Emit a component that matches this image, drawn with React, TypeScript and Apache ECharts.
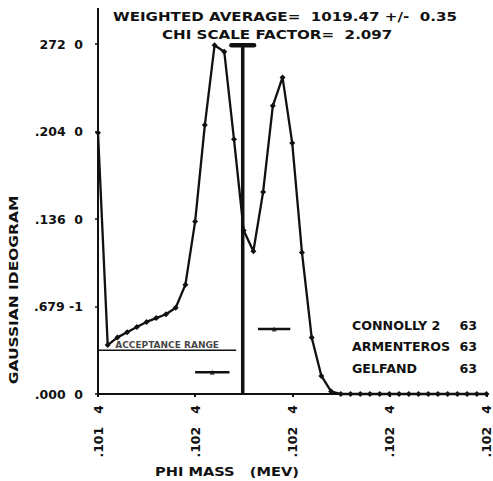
import React, { useEffect, useRef } from "react";
import * as echarts from "echarts";

// ---- data ----
const xMin = 1015;
const xMax = 1027;
const xStep = 3;
const xTickLabels = [".101   4", ".102   4", ".102   4", ".102   4", ".102   4"];

const yMin = 0;
const yMax = 0.272;
const yStep = 0.068;
const yTickLabels = [".000  0", ".679 -1", ".136  0", ".204  0", "272  0"];

const curveX = [
  1015.0, 1015.3, 1015.6, 1015.9, 1016.2, 1016.5, 1016.8, 1017.1, 1017.4, 1017.7,
  1018.0, 1018.3, 1018.6, 1018.9, 1019.2, 1019.5, 1019.8, 1020.1, 1020.4, 1020.7,
  1021.0, 1021.3, 1021.6, 1021.9, 1022.2, 1022.5, 1022.8, 1023.1, 1023.4, 1023.7,
  1024.0, 1024.3, 1024.6, 1024.9, 1025.2, 1025.5, 1025.8, 1026.1, 1026.4, 1026.7,
  1027.0,
];
const curveY = [
  0.203, 0.038, 0.044, 0.048, 0.052, 0.056, 0.059, 0.062, 0.067, 0.085,
  0.134, 0.209, 0.271, 0.266, 0.198, 0.127, 0.111, 0.157, 0.224, 0.246,
  0.195, 0.110, 0.044, 0.014, 0.002, 0, 0, 0, 0, 0,
  0, 0, 0, 0, 0, 0, 0, 0, 0, 0,
  0,
];

const weightedAverage = 1019.47;
const weightedError = 0.35;
const chiScale = "2.097";

const measCenters = [1018.53, 1020.44];
const measErrors = [0.53, 0.5];
const measHeights = [0.017, 0.0505];

const accLo = 1015.0;
const accHi = 1019.27;
const accY = 0.034;
const accText = "ACCEPTANCE RANGE";

const expNames = ["CONNOLLY 2", "ARMENTEROS", "GELFAND"];
const expYears = ["63", "63", "63"];

const FONT = "DejaVu Sans";
const INK = "#111";

export default function App() {
  const ref = useRef<HTMLDivElement>(null);
  useEffect(() => {
    if (!ref.current) return;
    const chart = echarts.init(ref.current, null, { renderer: "svg" });

    const lineStyleBase = { color: INK };
    const series: any[] = [];

    series.push({
      type: "line",
      data: curveX.map((x, i) => [x, curveY[i]]),
      symbol: "diamond",
      symbolSize: 6,
      showSymbol: true,
      itemStyle: { color: INK },
      lineStyle: { ...lineStyleBase, width: 2.3 },
      clip: false,
      z: 3,
    });

    // weighted average stem and error bar
    series.push({
      type: "line",
      data: [
        [weightedAverage, yMin],
        [weightedAverage, 0.271],
      ],
      symbol: "none",
      lineStyle: { ...lineStyleBase, width: 3.5 },
      clip: false,
    });
    series.push({
      type: "line",
      data: [
        [weightedAverage - weightedError, 0.271],
        [weightedAverage + weightedError, 0.271],
      ],
      symbol: "none",
      lineStyle: { ...lineStyleBase, width: 4.5, cap: "round" },
      clip: false,
    });

    // measurements
    measCenters.forEach((c, i) => {
      series.push({
        type: "line",
        data: [
          [c - measErrors[i], measHeights[i]],
          [c + measErrors[i], measHeights[i]],
        ],
        symbol: "none",
        lineStyle: { ...lineStyleBase, width: 2.5 },
      });
    });
    series.push({
      type: "scatter",
      data: measCenters.map((c, i) => [c, measHeights[i]]),
      symbol: "triangle",
      symbolSize: 5,
      itemStyle: { color: INK },
    });

    // acceptance range
    series.push({
      type: "line",
      data: [
        [accLo, accY],
        [accHi, accY],
      ],
      symbol: "none",
      lineStyle: { ...lineStyleBase, width: 1.5 },
    });
    series.push({
      type: "scatter",
      data: [[(accLo + accHi) / 2, accY]],
      symbolSize: 0,
      itemStyle: { color: "rgba(0,0,0,0)" },
      label: {
        show: true,
        position: "top",
        distance: 1,
        formatter: accText,
        fontFamily: FONT,
        fontWeight: "bold",
        fontSize: 9,
        color: INK,
      },
    });

    const option: any = {
      animation: false,
      backgroundColor: "#fff",
      grid: { left: 98, right: 1, top: 44, bottom: 87, containLabel: false },
      xAxis: {
        type: "value",
        min: xMin,
        max: xMax,
        interval: xStep,
        axisLine: { show: true, lineStyle: { color: INK, width: 2 } },
        axisTick: { show: true, length: 3, lineStyle: { color: INK, width: 2 } },
        splitLine: { show: false },
        axisLabel: {
          rotate: 90,
          margin: 11,
          fontFamily: FONT,
          fontWeight: "bold",
          fontSize: 12.5,
          color: INK,
          formatter: (v: number) => {
            const i = Math.round((v - xMin) / xStep);
            return xTickLabels[i] ?? "";
          },
        },
      },
      yAxis: {
        type: "value",
        min: yMin,
        max: yMax,
        interval: yStep,
        axisLine: { show: true, lineStyle: { color: INK, width: 2 } },
        axisTick: { show: true, length: 3, lineStyle: { color: INK, width: 1.5 } },
        splitLine: { show: false },
        axisLabel: {
          margin: 15,
          fontFamily: FONT,
          fontWeight: "bold",
          fontSize: 12.5,
          color: INK,
          formatter: (v: number) => {
            const i = Math.round((v - yMin) / yStep);
            return yTickLabels[i] ?? "";
          },
        },
      },
      series,
    };
    chart.setOption(option);

    const top = chart.convertToPixel({ gridIndex: 0 }, [xMin, yMax]) as number[];

    const textStyle = (extra: any) => ({
      fontFamily: FONT,
      fontWeight: "bold",
      fill: INK,
      ...extra,
    });

    const graphic: any[] = [
      {
        type: "line",
        shape: { x1: top[0], y1: top[1], x2: top[0], y2: 8 },
        style: { stroke: INK, lineWidth: 2 },
      },
      {
        type: "text",
        x: 113,
        y: 17,
        scaleX: 1.26,
        style: textStyle({
          text: `WEIGHTED AVERAGE=  ${weightedAverage.toFixed(2)} +/-  ${weightedError.toFixed(2)}`,
          fontSize: 12,
          verticalAlign: "middle",
        }),
      },
      {
        type: "text",
        x: 162,
        y: 35,
        scaleX: 1.26,
        style: textStyle({
          text: `CHI SCALE FACTOR=  ${chiScale}`,
          fontSize: 12,
          verticalAlign: "middle",
        }),
      },
      {
        type: "text",
        x: 14,
        y: 290,
        rotation: Math.PI / 2,
        scaleX: 1.29,
        style: textStyle({
          text: "GAUSSIAN IDEOGRAM",
          fontSize: 12,
          align: "center",
          verticalAlign: "middle",
        }),
      },
      {
        type: "text",
        x: 155,
        y: 472,
        scaleX: 1.27,
        style: textStyle({
          text: "PHI MASS   (MEV)",
          fontSize: 11.5,
          verticalAlign: "middle",
        }),
      },
    ];
    expNames.forEach((n, i) => {
      const y = 326 + i * 21.5;
      graphic.push({
        type: "text",
        x: 352,
        y,
        scaleX: 1.1,
        style: textStyle({ text: n, fontSize: 11.5, verticalAlign: "middle" }),
      });
      graphic.push({
        type: "text",
        x: 477,
        y,
        scaleX: 1.1,
        style: textStyle({
          text: expYears[i],
          fontSize: 11.5,
          align: "right",
          verticalAlign: "middle",
        }),
      });
    });
    chart.setOption({ graphic });

    return () => chart.dispose();
  }, []);

  return (
    <div
      ref={ref}
      style={{ position: "absolute", left: 0, top: 0, width: 493, height: 481 }}
    />
  );
}
